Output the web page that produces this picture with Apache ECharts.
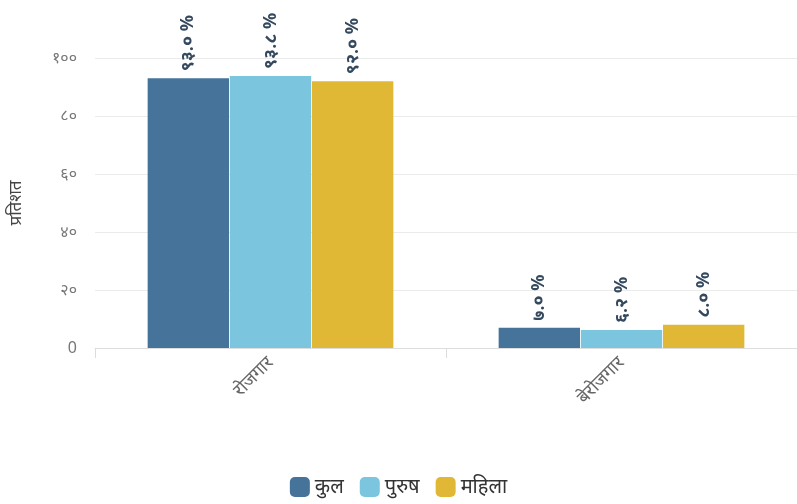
<!DOCTYPE html>
<html><head><meta charset="utf-8">
<script src="https://cdn.jsdelivr.net/npm/echarts@6/dist/echarts.min.js"></script>
<style>html,body{margin:0;padding:0;background:#fff}#c{width:797px;height:504px}</style>
</head><body><div id="c"></div>
<script>
var categories = ['रोजगार', 'बेरोजगार'];
var seriesNames = ['कुल', 'पुरुष', 'महिला'];
var kul = [93.0, 7.0];
var purush = [93.8, 6.2];
var mahila = [92.0, 8.0];
var yTickLabels = {0: '0', 20: '२०', 40: '४०', 60: '६०', 80: '८०', 100: '१००'};
var colors = ['#45739a', '#7bc5df', '#e1b835'];

var dev = '०१२३४५६७८९';
function toDev(s) { return String(s).replace(/[0-9]/g, function (d) { return dev[+d]; }); }
var font = "'Noto Sans', 'Noto Sans CJK SC', sans-serif";

function mkSeries(name, data, i) {
  return {
    name: name, type: 'bar', data: data, barGap: '1%', barCategoryGap: '30%',
    itemStyle: { color: colors[i] },
    label: {
      show: true, position: 'top', rotate: 90, align: 'left', verticalAlign: 'middle', distance: 7,
      fontFamily: font, fontSize: 18, fontWeight: 'bold', color: '#34495e',
      formatter: function (p) { return toDev(p.value.toFixed(1)) + ' %'; }
    }
  };
}

var chart = echarts.init(document.getElementById('c'));
chart.setOption({
  animation: false,
  textStyle: { fontFamily: font },
  grid: { left: 95, right: 0, top: 58, bottom: 156, containLabel: false },
  legend: {
    bottom: 2, left: 'center', itemWidth: 20, itemHeight: 20, itemGap: 16, icon: 'roundRect',
    textStyle: { fontFamily: font, fontSize: 20, color: '#333' }, data: seriesNames
  },
  xAxis: {
    type: 'category', data: categories,
    axisLine: { lineStyle: { color: '#ddd' } },
    axisTick: { show: true, length: 10, lineStyle: { color: '#ddd' } },
    axisLabel: { rotate: 45, margin: 12, fontFamily: font, fontSize: 18, color: '#666' }
  },
  yAxis: {
    type: 'value', min: 0, max: 100, interval: 20,
    name: 'प्रतिशत', nameLocation: 'middle', nameGap: 70,
    nameTextStyle: { fontFamily: font, fontSize: 17, color: '#444' },
    axisLine: { show: false }, axisTick: { show: false },
    splitLine: { lineStyle: { color: '#ebebeb' } },
    axisLabel: { margin: 18, fontFamily: font, fontSize: 16, color: '#777',
      formatter: function (v) { return yTickLabels[v]; } }
  },
  series: [mkSeries(seriesNames[0], kul, 0), mkSeries(seriesNames[1], purush, 1), mkSeries(seriesNames[2], mahila, 2)]
});
</script></body></html>
